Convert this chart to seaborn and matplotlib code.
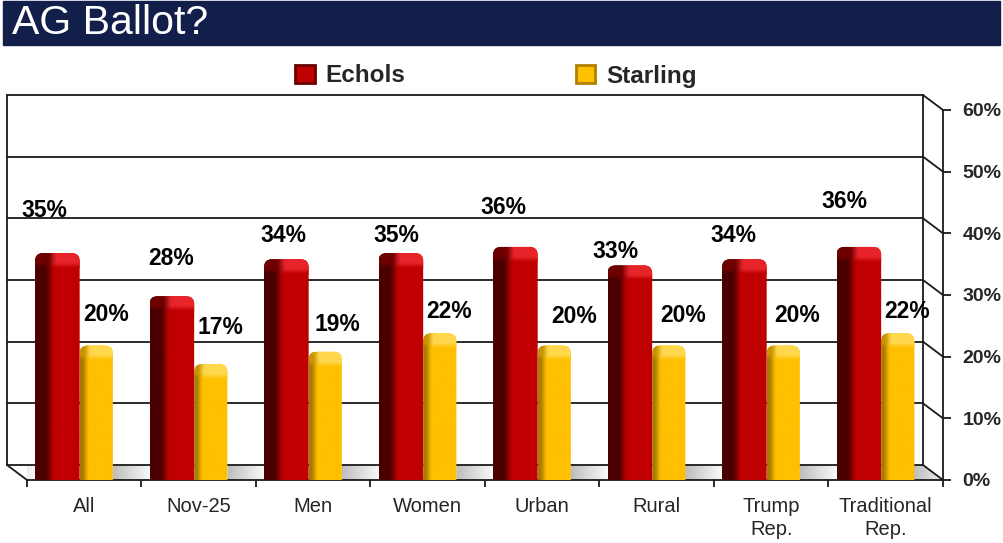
import numpy as np
import pandas as pd

import matplotlib
matplotlib.use('Agg')
import matplotlib.pyplot as plt
import seaborn as sns
from matplotlib.patches import Rectangle, FancyBboxPatch, Polygon, Patch
from matplotlib.colors import to_rgb

sns.set_style('white')
plt.rcParams['font.family'] = ['Liberation Sans', 'DejaVu Sans']

# ── Data ──────────────────────────────────────────────────────────────────────
GROUPS   = ['All', 'Nov-25', 'Men', 'Women', 'Urban', 'Rural',
            'Trump\nRep.', 'Traditional\nRep.']
ECHOLS   = [35, 28, 34, 35, 36, 33, 34, 36]
STARLING = [20, 17, 19, 22, 20, 20, 20, 22]
SERIES   = ['Echols', 'Starling']
Y_TICKS  = [0, 10, 20, 30, 40, 50, 60]
TITLE    = 'AG Ballot?'

# where the value labels sit relative to their bar (as in the original slide)
ECHOLS_NUDGE   = [8.7, 7.9, 5.6, 4.6, 8.2, 4.0, 5.6, 9.1]
STARLING_NUDGE = [6.8, 7.8, 6.2, 5.4, 6.5, 6.6, 6.6, 5.4]
ECHOLS_DX      = [-0.35, -0.24, -0.26, -0.27, -0.34, -0.36, -0.33, -0.36]
STARLING_DX    = [0.19, 0.19, 0.21, 0.19, 0.28, 0.23, 0.23, 0.19]

RED    = '#c00000'
YELLOW = '#ffc000'
NAVY   = '#121f4a'

# per-series 3D look: (x shift, width, side colour, front colour, cap dark, cap light, t0, t1)
LOOK = [
    (-0.03, 0.39, '#4a0000', RED,    '#6e0000', '#e8242a', 0.22, 0.45),
    (-0.04, 0.29, '#a87a00', YELLOW, '#c99400', '#ffd84d', 0.05, 0.28),
]

W, H, DPI = 1004, 543, 100
fig = plt.figure(figsize=(W / DPI, H / DPI), dpi=DPI)
ax = fig.add_axes([27 / W, 1 - 480 / H, 916 / W, 370 / H])

df = pd.DataFrame({
    'group': GROUPS * 2,
    'candidate': [SERIES[0]] * len(GROUPS) + [SERIES[1]] * len(GROUPS),
    'value': ECHOLS + STARLING,
})
sns.barplot(data=df, x='group', y='value', hue='candidate',
            palette=[RED, YELLOW], width=0.8, ax=ax, legend=False)

ax.set_xlim(-0.5, len(GROUPS) - 0.5)
ax.set_ylim(0, 60)
x_lo, x_hi = ax.get_xlim()

# pixel -> data helpers for the 3D depth offset
px_x = 916 / (x_hi - x_lo)
px_y = 370 / 60
DX, DY = -20 / px_x, 15 / px_y
ASPECT = px_x / px_y


def profile(n, dark, light, t0, t1):
    t = np.linspace(0, 1, n)
    k = np.clip((t - t0) / (t1 - t0), 0, 1)
    k = k * k * (3 - 2 * k)
    d, f = np.array(to_rgb(dark)), np.array(to_rgb(light))
    return d[None, :] * (1 - k[:, None]) + f[None, :] * k[:, None]


# ── 3D bars: restyle seaborn's rectangles ────────────────────────────────────
for h_idx, cont in enumerate(ax.containers):
    shift, width, side, front, cdark, clight, t0, t1 = LOOK[h_idx]
    body = profile(200, side, front, t0, t1)
    cap_row = profile(200, cdark, clight, t0 + 0.05, t1 + 0.05)
    ny = 24
    v = np.linspace(0, 1, ny)[:, None, None]
    blend = np.clip(v / 0.35, 0, 1)
    cap = body[None, :, :] * (1 - blend) + cap_row[None, :, :] * blend
    for p in cont.patches:
        x = p.get_x() + shift
        h = p.get_height()
        p.set_visible(False)
        top = h + 1.8
        clip = FancyBboxPatch((x, -3), width, top + 3,
                              boxstyle=f'round,pad=0,rounding_size={8 / px_x}',
                              mutation_aspect=ASPECT, transform=ax.transData,
                              facecolor='none', edgecolor='none')
        ax.add_patch(clip)
        im = ax.imshow(body[None, :, :], extent=[x, x + width, 0, top],
                       aspect='auto', interpolation='bilinear', zorder=5)
        im.set_clip_path(clip)
        im2 = ax.imshow(cap, extent=[x, x + width, h - 0.6, top], origin='lower',
                        aspect='auto', interpolation='bilinear', zorder=6)
        im2.set_clip_path(clip)

ax.set_xlim(x_lo, x_hi)
ax.set_ylim(0, 60)

# ── floor with soft shadows ──────────────────────────────────────────────────
xs = np.linspace(x_lo + DX, x_hi, 900)
frac = np.mod(xs - 0.25, 1.0)
shade = 0.74 + 0.26 * np.clip(frac / 0.35, 0, 1)
floor_img = np.repeat(shade[None, :, None], 3, axis=2)
floor = Polygon([(x_lo, 0), (x_hi, 0), (x_hi + DX, DY), (x_lo + DX, DY)],
                closed=True, transform=ax.transData, facecolor='none', edgecolor='none')
ax.add_patch(floor)
fim = ax.imshow(floor_img, extent=[x_lo + DX, x_hi, 0, DY],
                aspect='auto', interpolation='bilinear', zorder=2)
fim.set_clip_path(floor)
fim.set_clip_box(None)

# ── back wall, gridlines and depth edges ─────────────────────────────────────
line_kw = dict(color='#1a1a1a', lw=1.3, clip_on=False, zorder=3)
for y in Y_TICKS:
    ax.plot([x_lo + DX, x_hi + DX], [y + DY, y + DY], **line_kw)
    ax.plot([x_hi + DX, x_hi], [y + DY, y], **line_kw)
ax.plot([x_lo + DX] * 2, [DY, 60 + DY], **line_kw)
ax.plot([x_hi + DX] * 2, [DY, 60 + DY], **line_kw)
ax.plot([x_lo + DX, x_lo], [DY, 0], **line_kw)

# ── value labels ─────────────────────────────────────────────────────────────
for vals, nudges, dxs in [(ECHOLS, ECHOLS_NUDGE, ECHOLS_DX),
                          (STARLING, STARLING_NUDGE, STARLING_DX)]:
    for i, (val, nd, dx) in enumerate(zip(vals, nudges, dxs)):
        ax.text(i + dx, val + nd, f'{val}%', ha='center', va='center',
                fontsize=16.5, fontweight='bold', color='black',
                zorder=10, clip_on=False)

# ── axes styling ─────────────────────────────────────────────────────────────
ax.set_facecolor('none')
for s in ['top', 'left']:
    ax.spines[s].set_visible(False)
for s in ['right', 'bottom']:
    ax.spines[s].set_color('#1a1a1a')
    ax.spines[s].set_linewidth(1.3)

ax.yaxis.tick_right()
ax.set_yticks(Y_TICKS)
ax.set_yticklabels([f'{t}%' for t in Y_TICKS], fontsize=14, fontweight='bold')
ax.tick_params(axis='y', direction='out', length=6, width=1.3, pad=8,
               color='#1a1a1a', right=True, left=False)

ax.set_xticks(range(len(GROUPS)))
ax.set_xticklabels(GROUPS, fontsize=14.5, linespacing=1.3)
ax.set_xticks(np.arange(x_lo, x_hi + 0.01, 1.0), minor=True)
ax.tick_params(axis='x', which='major', length=0, pad=12)
ax.tick_params(axis='x', which='minor', direction='out', length=5,
               width=1.3, color='#1a1a1a', bottom=True)
ax.set_xlabel('')
ax.set_ylabel('')

# ── title bar ────────────────────────────────────────────────────────────────
fig.add_artist(Rectangle((3 / W, 1 - 45 / H), 997 / W, 44 / H,
                         transform=fig.transFigure, color=NAVY, zorder=0))
fig.text(12 / W, 1 - 23 / H, TITLE, color='white', fontsize=29.5, va='center')

# ── legend ───────────────────────────────────────────────────────────────────
handles = [Patch(facecolor=RED, edgecolor='#6a0000', lw=2),
           Patch(facecolor=YELLOW, edgecolor='#b08000', lw=2)]
fig.legend(handles=handles, labels=SERIES, ncol=2, loc='center',
           bbox_to_anchor=(496 / W, 1 - 76 / H), frameon=False,
           prop=dict(weight='bold', size=17.5), handlelength=0.8,
           handleheight=0.8, handletextpad=0.45, columnspacing=7.0)

fig.savefig('out.png', dpi=DPI)
